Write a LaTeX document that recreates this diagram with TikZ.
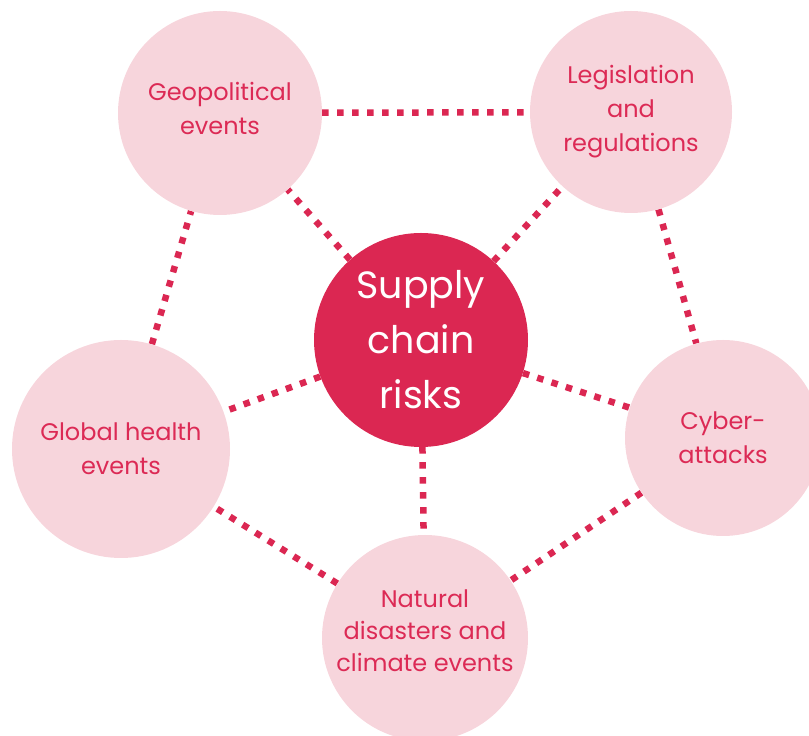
\documentclass[tikz,border=0pt]{standalone}
\usepackage{fontspec}
\setmainfont{Poppins}
\usetikzlibrary{backgrounds}
\definecolor{darkpink}{HTML}{DB2752}
\definecolor{lightpink}{HTML}{F7D5DC}
\definecolor{pinktext}{HTML}{DC2A55}
\tikzset{
  risk/.style={circle, fill=lightpink, text=pinktext, align=center, inner sep=0pt,
    font=\fontsize{24}{34}\selectfont},
  hub/.style={circle, fill=darkpink, text=white, align=center, inner sep=0pt,
    font=\fontsize{38}{55}\selectfont},
  link/.style={draw=darkpink, line width=6.5pt, dash pattern=on 6.5pt off 8.5pt}
}
\begin{document}
\begin{tikzpicture}[x=1pt,y=1pt]
\useasboundingbox (0,0) rectangle (809,736);
\node[hub, minimum size=214pt] (c) at (421,396) {Supply\\chain\\risks};
\node[risk, minimum size=204pt, text depth=9pt] (geo) at (220,623) {Geopolitical\\events};
\node[risk, minimum size=202pt] (leg) at (631,624) {Legislation\\and\\regulations};
\node[risk, minimum size=196pt] (cyb) at (723,298) {Cyber-\\attacks};
\node[risk, minimum size=218pt] (hea) at (121,287) {Global health\\events};
\node[risk, minimum size=206pt, text depth=14pt, font=\fontsize{24}{32}\selectfont] (nat) at (425,98) {Natural\\disasters and\\climate events};
\begin{scope}[on background layer]
\draw[link] (geo) -- (leg);
\draw[link] (leg) -- (cyb);
\draw[link] (cyb) -- (nat);
\draw[link] (nat) -- (hea);
\draw[link] (hea) -- (geo);
\draw[link] (c) -- (geo);
\draw[link] (c) -- (leg);
\draw[link] (c) -- (cyb);
\draw[link] (c) -- (nat);
\draw[link] (c) -- (hea);
\end{scope}
\end{tikzpicture}
\end{document}
